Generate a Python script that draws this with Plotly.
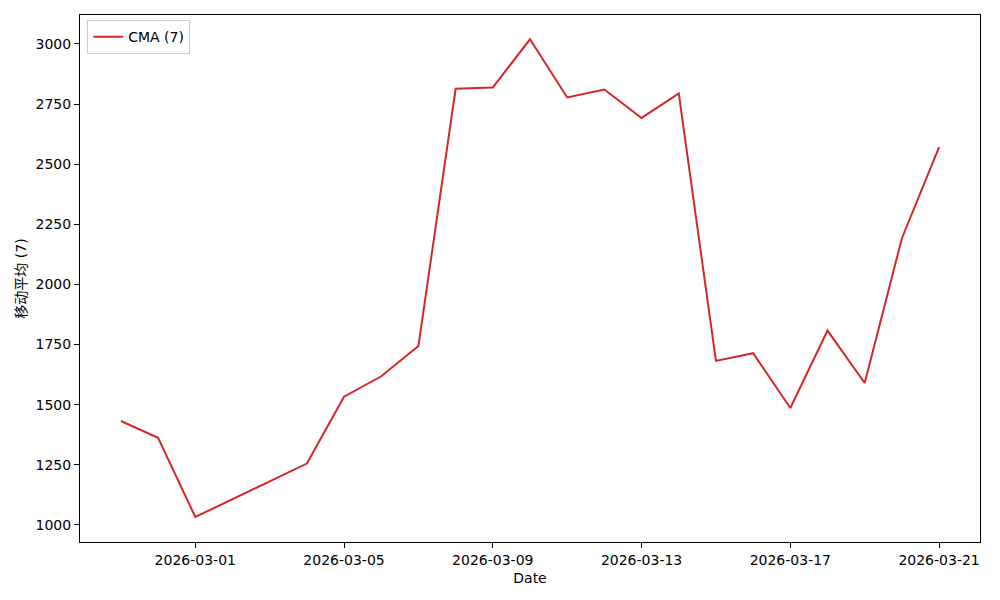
import plotly.graph_objects as go

dates = ["2026-02-27", "2026-02-28", "2026-03-01", "2026-03-04", "2026-03-05",
         "2026-03-06", "2026-03-07", "2026-03-08", "2026-03-09", "2026-03-10",
         "2026-03-11", "2026-03-12", "2026-03-13", "2026-03-14", "2026-03-15",
         "2026-03-16", "2026-03-17", "2026-03-18", "2026-03-19", "2026-03-20",
         "2026-03-21"]
cma_values = [1432, 1362, 1033, 1255, 1533,
              1618, 1744, 2813, 2819, 3019,
              2777, 2810, 2692, 2794, 1682,
              1714, 1486, 1808, 1590, 2192,
              2571]
series_name = "CMA (7)"
x_tick_vals = ["2026-03-01", "2026-03-05", "2026-03-09", "2026-03-13", "2026-03-17", "2026-03-21"]
y_tick_vals = [1000, 1250, 1500, 1750, 2000, 2250, 2500, 2750, 3000]
x_title = "Date"
y_title = "移动平均 (7)"

FONT = "DejaVu Sans, Noto Sans CJK SC, sans-serif"

fig = go.Figure()
fig.add_trace(go.Scatter(
    x=dates, y=cma_values, mode="lines", name=series_name,
    line=dict(color="#d62728", width=2),
))

fig.update_layout(
    width=992, height=592,
    margin=dict(l=72, r=20, t=7, b=58),
    paper_bgcolor="white", plot_bgcolor="white",
    font=dict(family=FONT, size=14, color="black"),
    showlegend=True,
    legend=dict(x=0.008, y=0.99, xanchor="left", yanchor="top",
                bordercolor="#cccccc", borderwidth=1, bgcolor="white",
                font=dict(size=14)),
    xaxis=dict(
        type="date", automargin=False,
        range=["2026-02-25 21:36", "2026-03-22 02:24"],
        tickvals=x_tick_vals, tickformat="%Y-%m-%d",
        showgrid=False, zeroline=False,
        showline=True, linecolor="black", linewidth=1, mirror=True,
        ticks="outside", ticklen=5, tickcolor="black",
        tickfont=dict(size=14),
        title=dict(text=x_title, standoff=6, font=dict(size=14)),
    ),
    yaxis=dict(
        automargin=False,
        range=[929, 3120],
        tickvals=y_tick_vals,
        showgrid=False, zeroline=False,
        showline=True, linecolor="black", linewidth=1, mirror=True,
        ticks="outside", ticklen=5, tickcolor="black",
        tickfont=dict(size=14),
        title=dict(text=y_title, standoff=5, font=dict(size=14)),
    ),
)

fig.write_html("out.html")
